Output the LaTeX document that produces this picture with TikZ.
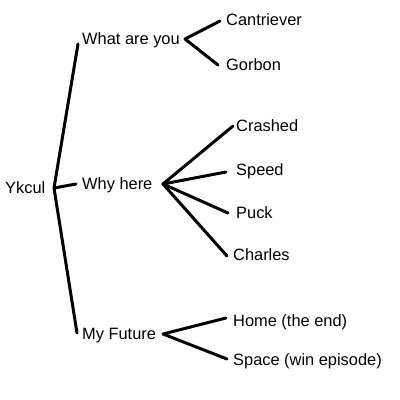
\documentclass[tikz,border=0pt]{standalone}
\usepackage{fontspec}
\setmainfont{Liberation Sans}
\begin{document}
\begin{tikzpicture}[x=1pt,y=-1pt,
  lbl/.style={anchor=base west,inner sep=0pt,font=\fontsize{16.4}{19}\selectfont},
  conn/.style={line width=3pt,line cap=round,line join=round}]
\useasboundingbox (0,0) rectangle (400,400);
% labels
\node[lbl] (ykcul) at (5,193) {Ykcul};
\node[lbl] (what) at (82,44) {What are you};
\node[lbl] (why) at (82,189) {Why here};
\node[lbl] (future) at (82,339) {My Future};
\node[lbl] (cant) at (226,25) {Cantriever};
\node[lbl] (gorb) at (226,70) {Gorbon};
\node[lbl] (crash) at (236,131) {Crashed};
\node[lbl] (speed) at (236,175) {Speed};
\node[lbl] (puck) at (236,218) {Puck};
\node[lbl] (charl) at (233,260) {Charles};
\node[lbl] (home) at (233,326) {Home (the end)};
\node[lbl] (space) at (233,365) {Space (win episode)};
% connector points
\coordinate (rootJ) at (54,188);
\coordinate (whatL) at (78,44);
\coordinate (whyL) at (76,184);
\coordinate (futL) at (77,333);
\coordinate (whatJ) at (185,39);
\coordinate (whyJ) at (163,184);
\coordinate (futJ) at (163,334);
\coordinate (cantE) at (220,21);
\coordinate (gorbE) at (218,65);
\coordinate (crashE) at (233,126);
\coordinate (speedE) at (226,172);
\coordinate (puckE) at (228,213);
\coordinate (charlE) at (227,256);
\coordinate (homeE) at (226,318);
\coordinate (spaceE) at (227,359);
% connectors
\draw[conn] (whatL) -- (rootJ) -- (futL);
\draw[conn] (rootJ) -- (whyL);
\draw[conn] (cantE) -- (whatJ) -- (gorbE);
\draw[conn] (whyJ) -- (crashE);
\draw[conn] (whyJ) -- (speedE);
\draw[conn] (whyJ) -- (puckE);
\draw[conn] (whyJ) -- (charlE);
\draw[conn] (homeE) -- (futJ) -- (spaceE);
\end{tikzpicture}
\end{document}
